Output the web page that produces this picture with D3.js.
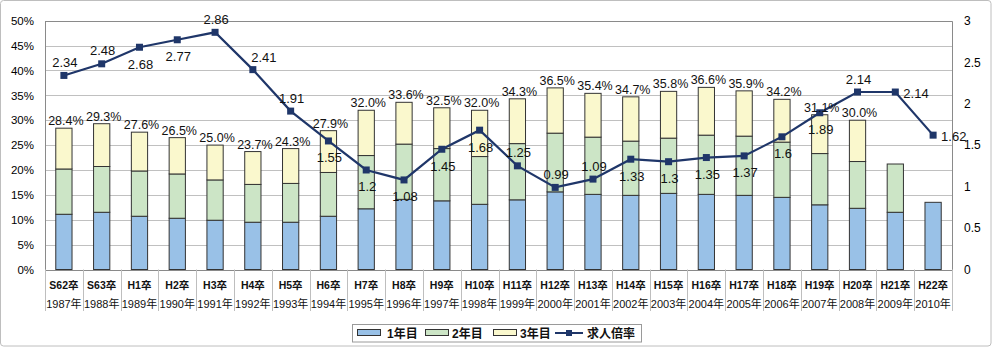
<!DOCTYPE html>
<html><head><meta charset="utf-8">
<script src="https://cdn.jsdelivr.net/npm/d3@7"></script>
<style>
html,body{margin:0;padding:0;background:#fff;}
text{font-family:"Liberation Sans",Arial,"Noto Sans CJK JP",sans-serif;}
</style></head>
<body>
<svg id="chart" width="993" height="347"></svg>
<script>
// ---- data ----
const categoriesTop = ["S62卒","S63卒","H1卒","H2卒","H3卒","H4卒","H5卒","H6卒","H7卒","H8卒","H9卒","H10卒","H11卒","H12卒","H13卒","H14卒","H15卒","H16卒","H17卒","H18卒","H19卒","H20卒","H21卒","H22卒"];
const categoriesBottom = ["1987年","1988年","1989年","1990年","1991年","1992年","1993年","1994年","1995年","1996年","1997年","1998年","1999年","2000年","2001年","2002年","2003年","2004年","2005年","2006年","2007年","2008年","2009年","2010年"];
const year1 = [11.1,11.5,10.7,10.3,9.9,9.5,9.5,10.7,12.2,14.1,13.8,13.1,14.0,15.6,15.1,14.9,15.3,15.1,14.9,14.5,13.0,12.3,11.5,13.5];
const year2 = [9.1,9.2,9.1,8.9,8.1,7.6,7.8,8.8,10.7,11.1,10.5,9.6,11.3,11.8,11.5,10.9,11.1,11.9,11.9,11.1,10.3,9.4,9.7,null];
const year3 = [8.2,8.6,7.8,7.3,7.0,6.6,7.0,8.4,9.1,8.4,8.2,9.3,9.0,9.1,8.8,8.9,9.4,9.6,9.1,8.6,7.8,8.3,null,null];
const totalLabels = ["28.4%","29.3%","27.6%","26.5%","25.0%","23.7%","24.3%","27.9%","32.0%","33.6%","32.5%","32.0%","34.3%","36.5%","35.4%","34.7%","35.8%","36.6%","35.9%","34.2%","31.1%","30.0%",null,null];
const jobRatio = [2.34,2.48,2.68,2.77,2.86,2.41,1.91,1.55,1.2,1.08,1.45,1.68,1.25,0.99,1.09,1.33,1.3,1.35,1.37,1.6,1.89,2.14,2.14,1.62];
const leftTicks = [0,5,10,15,20,25,30,35,40,45,50];
const rightTicks = [0,0.5,1,1.5,2,2.5,3];
const seriesNames = ["1年目","2年目","3年目","求人倍率"];
// label placement style for the ratio labels
const ratioLabelPos = ["above","above","below","below","above","aboveRight","above","below","below","below","below","below","above","above","above","below","below","below","below","below","below","above","right","right"];

// ---- layout ----
const svg = d3.select("#chart");
const L = 45, R = 952, T = 20.7, B = 269.5;
const colors = ["#99C1E7","#CCE5C6","#FAF8CD"];
const lineColor = "#1F3669";

svg.append("rect").attr("x",0.5).attr("y",0.5).attr("width",990.5).attr("height",345.5)
  .attr("rx",3).attr("fill","#fff").attr("stroke","#BEBEBE");

const x = d3.scaleBand().domain(categoriesTop).range([L,R]).padding(0);
const yL = d3.scaleLinear().domain([0,50]).range([B,T]);
const yR = d3.scaleLinear().domain([0,3]).range([B,T]);
const bw = x.bandwidth()*0.43;

// gridlines
svg.append("g").selectAll("line").data(leftTicks.filter(d=>d>0)).join("line")
  .attr("x1",L).attr("x2",R).attr("y1",d=>Math.round(yL(d))+0.5).attr("y2",d=>Math.round(yL(d))+0.5)
  .attr("stroke",d=>d===50?"#8A8A8A":"#C0C0C0").attr("stroke-width",1);

// left axis
const gL = svg.append("g").attr("transform",`translate(${L},0)`)
  .call(d3.axisLeft(yL).tickValues(leftTicks).tickFormat(d=>d+"%").tickSize(0).tickPadding(11));
gL.select(".domain").attr("stroke","#8A8A8A");
gL.selectAll("text").attr("font-size","11.5px").attr("fill","#000").style("font-family",'"Liberation Sans",Arial,sans-serif');

// right axis
const gR = svg.append("g").attr("transform",`translate(${R},0)`)
  .call(d3.axisRight(yR).tickValues(rightTicks).tickFormat(d=>String(d)).tickSize(0).tickPadding(12));
gR.select(".domain").attr("stroke","#8A8A8A");
gR.selectAll("text").attr("font-size","12px").attr("fill","#000").style("font-family",'"Liberation Sans",Arial,sans-serif');

// bottom axis line + category separators
svg.append("line").attr("x1",L).attr("x2",R).attr("y1",Math.round(B)+0.5).attr("y2",Math.round(B)+0.5).attr("stroke","#8A8A8A");
const bounds = categoriesTop.map(c=>x(c)).concat([R]);
svg.append("g").selectAll("line").data(bounds).join("line")
  .attr("x1",d=>Math.round(d)+0.5).attr("x2",d=>Math.round(d)+0.5).attr("y1",B).attr("y2",311)
  .attr("stroke","#BEBEBE");
const cx = c => x(c)+x.bandwidth()/2;
svg.append("g").selectAll("text").data(categoriesTop).join("text")
  .attr("x",d=>cx(d)).attr("y",289).attr("text-anchor","middle")
  .attr("font-size","10.5px").attr("font-weight","bold").attr("fill","#111").text(d=>d);
svg.append("g").selectAll("text").data(categoriesBottom).join("text")
  .attr("x",(d,i)=>cx(categoriesTop[i])).attr("y",308).attr("text-anchor","middle")
  .attr("font-size","11px").attr("fill","#111").text(d=>d);

// stacked bars
const stackData = categoriesTop.map((c,i)=>({c, v:[year1[i],year2[i],year3[i]]}));
const gBars = svg.append("g");
stackData.forEach(d=>{
  let base = 0;
  d.v.forEach((v,k)=>{
    if(v==null) return;
    const y0 = yL(base), y1 = yL(base+v);
    gBars.append("rect").attr("x",cx(d.c)-bw/2).attr("width",bw)
      .attr("y",y1).attr("height",y0-y1)
      .attr("fill",colors[k]).attr("stroke","#333").attr("stroke-width",1);
    base += v;
  });
  d.top = base;
});

// line
const pts = categoriesTop.map((c,i)=>[cx(c), yR(jobRatio[i])]);
svg.append("path").attr("d",d3.line()(pts)).attr("fill","none").attr("stroke",lineColor).attr("stroke-width",2.2);
svg.append("g").selectAll("rect").data(pts).join("rect")
  .attr("x",d=>d[0]-3.5).attr("y",d=>d[1]-3.5).attr("width",7).attr("height",7).attr("fill",lineColor);

// total percent labels
svg.append("g").selectAll("text").data(stackData.filter((d,i)=>totalLabels[i]!=null)).join("text")
  .attr("x",d=>cx(d.c)+2).attr("y",d=>yL(d.top)-3).attr("text-anchor","middle")
  .attr("font-size","12.5px").attr("fill","#111").text(d=>totalLabels[categoriesTop.indexOf(d.c)]);

// ratio labels
svg.append("g").selectAll("text").data(jobRatio).join("text")
  .attr("x",(d,i)=>{const p=ratioLabelPos[i]; return pts[i][0] + (p==="aboveRight"?11:p==="right"?8:1);})
  .attr("y",(d,i)=>{const p=ratioLabelPos[i]; const py=pts[i][1];
    return (p==="above"?py-13:p==="below"?py+17:p==="aboveRight"?py-12:py+1) + 4.5;})
  .attr("text-anchor",(d,i)=>ratioLabelPos[i]==="right"?"start":"middle")
  .attr("font-size","13px").attr("fill","#111").text(d=>String(d));

// legend
const lg = svg.append("g");
lg.append("rect").attr("x",352.5).attr("y",324.5).attr("width",289).attr("height",17.5).attr("fill","#fff").attr("stroke","#9A9A9A");
const legendItems = [
  {name:seriesNames[0], sx:357, tx:387, type:"bar", color:colors[0]},
  {name:seriesNames[1], sx:425, tx:452, type:"bar", color:colors[1]},
  {name:seriesNames[2], sx:493, tx:520, type:"bar", color:colors[2]},
  {name:seriesNames[3], sx:555, tx:587, type:"line", color:lineColor}
];
legendItems.forEach(it=>{
  if(it.type==="bar"){
    lg.append("rect").attr("x",it.sx+0.5).attr("y",329.5).attr("width",23).attr("height",6).attr("fill",it.color).attr("stroke","#333");
  } else {
    lg.append("line").attr("x1",it.sx).attr("x2",it.sx+28).attr("y1",333).attr("y2",333).attr("stroke",it.color).attr("stroke-width",2);
    lg.append("rect").attr("x",it.sx+11).attr("y",330).attr("width",6).attr("height",6).attr("fill",it.color);
  }
  lg.append("text").attr("x",it.tx).attr("y",338).attr("font-size","12px").attr("font-weight","bold").attr("fill","#111").text(it.name);
});
</script>
</body></html>
